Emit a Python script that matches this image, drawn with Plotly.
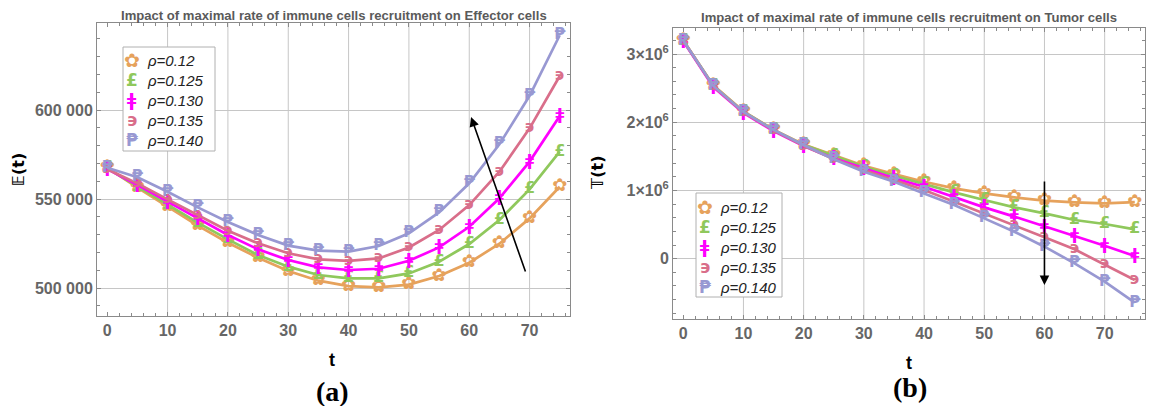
import plotly.graph_objects as go

# ---------------- data ----------------
t = [0, 5, 10, 15, 20, 25, 30, 35, 40, 45, 50, 55, 60, 65, 70, 75]
rho_labels = ["ρ=0.12", "ρ=0.125", "ρ=0.130", "ρ=0.135", "ρ=0.140"]
colors = ["rgb(230,162,92)", "rgb(143,200,92)", "rgb(255,0,255)", "rgb(217,110,138)", "rgb(152,152,210)"]
glyphs = ["✿", "£", "ǂ", "϶", "₱"]

# Effector cells E(t)
E_012 = [567600, 556400, 545700, 535000, 525400, 517000, 509500, 504100, 501100, 500400, 501900, 506700, 514200, 524900, 539100, 556900]
E_0125 = [567200, 557000, 546600, 536700, 527300, 518500, 512000, 507300, 505400, 505400, 508200, 514800, 524700, 538200, 555400, 576600]
E_0130 = [566800, 557900, 548500, 539100, 529800, 521700, 515700, 511600, 510100, 510800, 515300, 522800, 534400, 550400, 571000, 596600]
E_0135 = [566700, 558800, 549800, 541000, 532200, 525100, 519500, 516100, 515200, 516600, 522800, 532600, 546600, 565300, 589700, 619100]
E_0140 = [567600, 562200, 554100, 545300, 537100, 529800, 523800, 521000, 520400, 523600, 530700, 542500, 558800, 580700, 608000, 642000]

# Tumor cells T(t)
T_012 = [3.200e6, 2.540e6, 2.160e6, 1.892e6, 1.675e6, 1.519e6, 1.363e6, 1.241e6, 1.128e6, 1.031e6, 0.957e6, 0.899e6, 0.850e6, 0.826e6, 0.811e6, 0.830e6]
T_0125 = [3.198e6, 2.535e6, 2.155e6, 1.888e6, 1.668e6, 1.510e6, 1.348e6, 1.216e6, 1.089e6, 0.972e6, 0.860e6, 0.752e6, 0.664e6, 0.567e6, 0.508e6, 0.430e6]
T_0130 = [3.190e6, 2.515e6, 2.135e6, 1.870e6, 1.650e6, 1.470e6, 1.324e6, 1.177e6, 1.055e6, 0.899e6, 0.752e6, 0.616e6, 0.469e6, 0.332e6, 0.190e6, 0.039e6]
T_0135 = [3.195e6, 2.525e6, 2.145e6, 1.880e6, 1.655e6, 1.460e6, 1.300e6, 1.153e6, 1.006e6, 0.835e6, 0.664e6, 0.493e6, 0.313e6, 0.137e6, -0.083e6, -0.313e6]
T_0140 = [3.197e6, 2.532e6, 2.151e6, 1.887e6, 1.667e6, 1.456e6, 1.275e6, 1.128e6, 0.957e6, 0.787e6, 0.591e6, 0.396e6, 0.176e6, -0.068e6, -0.337e6, -0.645e6]

E_series = [E_012, E_0125, E_0130, E_0135, E_0140]
T_series = [T_012, T_0125, T_0130, T_0135, T_0140]

x_ticks = [0, 10, 20, 30, 40, 50, 60, 70]
x_grid = [10, 20, 30, 40, 50, 60, 70]
E_ticks = [500000, 550000, 600000]
E_ticktext = ["500 000", "550 000", "600 000"]
T_ticks = [0, 1e6, 2e6, 3e6]
T_ticktext = ["0", "1×10<sup>6</sup>", "2×10<sup>6</sup>", "3×10<sup>6</sup>"]

titles = ["Impact of maximal rate of immune cells recruitment on Effector cells",
          "Impact of maximal rate of immune cells recruitment on Tumor cells"]

# ---------------- figure ----------------
# the page body has an 8px default margin: the figure starts at (8, 8) in the window
OFF = 8
W, H = 1138, 398
fig = go.Figure()

def px_x(p):
    return (p - OFF) / W

def px_y(p):
    return 1 - (p - OFF) / H

panels = [
    dict(xa="x", ya="y", series=E_series, frame=(97, 570, 23, 316)),
    dict(xa="x2", ya="y2", series=T_series, frame=(673, 1145, 28, 319)),
]

glyph_bold = [False, True, True, True, True]
glyph_size = [18, 16, 16, 16, 16]

for p in panels:
    for s, col, g, name, gb, gs in zip(p["series"], colors, glyphs, rho_labels, glyph_bold, glyph_size):
        fig.add_trace(go.Scatter(
            x=t, y=s, xaxis=p["xa"], yaxis=p["ya"], mode="lines+text",
            text=[g] * len(t), textposition="middle center",
            textfont=dict(family="DejaVu Sans", size=gs, color=col, weight=("bold" if gb else "normal")),
            line=dict(color=col, width=2.7), name=name, showlegend=False,
            cliponaxis=False,
        ))

grey = "#8a8a8a"
SANS = "Arial, Liberation Sans, sans-serif"
tickfont = dict(family=SANS, size=16, color="#666666", weight="bold")

def xax(domain):
    return dict(domain=domain, range=[-1.7, 76.7], tickvals=x_ticks, showgrid=False,
                zeroline=False, showline=True, linecolor=grey, linewidth=1, mirror="ticks",
                ticks="inside", ticklen=4, tickcolor=grey,
                minor=dict(dtick=2, tick0=0, ticks="inside", ticklen=3, tickcolor=grey, showgrid=False),
                tickfont=tickfont, fixedrange=True, automargin=False)

f1, f2 = panels[0]["frame"], panels[1]["frame"]
fig.update_layout(
    width=W, height=H, margin=dict(l=0, r=0, t=0, b=0, autoexpand=False),
    paper_bgcolor="white", plot_bgcolor="white", showlegend=False,
    xaxis=xax([px_x(f1[0]), px_x(f1[1])]),
    xaxis2=dict(xax([px_x(f2[0]), px_x(f2[1])]), anchor="y2"),
    yaxis=dict(domain=[px_y(f1[3]), px_y(f1[2])], range=[484270, 648876],
               tickvals=E_ticks, ticktext=E_ticktext, showgrid=True, gridcolor="#c6c6c6", gridwidth=1,
               zeroline=False, showline=True, linecolor=grey, linewidth=1, mirror="ticks",
               ticks="inside", ticklen=4, tickcolor=grey,
               minor=dict(dtick=10000, tick0=0, ticks="inside", ticklen=3, tickcolor=grey, showgrid=False),
               tickfont=tickfont, automargin=False),
    yaxis2=dict(domain=[px_y(f2[3]), px_y(f2[2])], range=[-0.884e6, 3.381e6], anchor="x2",
                tickvals=T_ticks, ticktext=T_ticktext, showgrid=True, gridcolor="#c6c6c6", gridwidth=1,
                zeroline=False, showline=True, linecolor=grey, linewidth=1, mirror="ticks",
                ticks="inside", ticklen=4, tickcolor=grey,
                minor=dict(dtick=2e5, tick0=0, ticks="inside", ticklen=3, tickcolor=grey, showgrid=False),
                tickfont=tickfont, automargin=False),
)

# vertical grid lines (no line at t=0 in the reference)
for xa in ["x", "x2"]:
    for gx in x_grid:
        fig.add_shape(type="line", xref=xa, yref=("y domain" if xa == "x" else "y2 domain"),
                      x0=gx, x1=gx, y0=0, y1=1, line=dict(color="#c6c6c6", width=1), layer="below")

ann = []

def note(text, x, y, size, family=SANS, color="black", bold=False, angle=0, xanchor="center"):
    ann.append(dict(text=text, xref="paper", yref="paper", x=px_x(x), y=px_y(y), showarrow=False,
                    xanchor=xanchor, yanchor="middle", textangle=angle,
                    font=dict(family=family, size=size, color=color, weight=("bold" if bold else "normal"))))

# titles
note(titles[0], (f1[0] + f1[1]) / 2, 15, 13.1, color="#5a5a5a", bold=True)
note(titles[1], (f2[0] + f2[1]) / 2, 17, 13.1, color="#5a5a5a", bold=True)
# axis titles
note("t", 332, 360, 18, bold=True)
note("t", 909, 363, 18, bold=True)
note("<b>𝔼(t)</b>", 18, 170, 16, family="DejaVu Sans", bold=True, angle=-90)
note("<b>𝕋(t)</b>", 598, 173, 16, family="DejaVu Sans", bold=True, angle=-90)
# panel labels
SERIF = "Times New Roman, Liberation Serif, serif"
note("(a)", 332, 391, 28, family=SERIF, bold=True)
note("(b)", 910, 387, 28, family=SERIF, bold=True)

# arrows
ann.append(dict(x=60.3, y=596100, ax=69.4, ay=508400, xref="x", yref="y", axref="x", ayref="y",
                text="", showarrow=True, arrowhead=2, arrowsize=1.2, arrowwidth=1.6, arrowcolor="black"))
ann.append(dict(x=60, y=-0.386e6, ax=60, ay=1.154e6, xref="x2", yref="y2", axref="x2", ayref="y2",
                text="", showarrow=True, arrowhead=2, arrowsize=1.2, arrowwidth=1.6, arrowcolor="black"))

# legends (inset boxes)
legends = [dict(box=(123, 215, 47, 151), gx=132, tx=145, y0=60),
           dict(box=(696, 782, 193, 297), gx=705, tx=718, y0=207)]
for lg in legends:
    b = lg["box"]
    fig.add_shape(type="rect", xref="paper", yref="paper", x0=px_x(b[0]), x1=px_x(b[1]),
                  y0=px_y(b[3]), y1=px_y(b[2]), line=dict(color="#b0b0b0", width=1), fillcolor="white",
                  layer="above")
    for k, (name, col, g, gb, gs) in enumerate(zip(rho_labels, colors, glyphs, glyph_bold, glyph_size)):
        yy = lg["y0"] + 20 * k
        note(g, lg["gx"], yy, gs + 1, family="DejaVu Sans", color=col, bold=gb)
        note("<i>" + name + "</i>", lg["tx"], yy, 15, color="#222222", xanchor="left")

fig.update_layout(annotations=ann)
fig.write_html("out.html")
